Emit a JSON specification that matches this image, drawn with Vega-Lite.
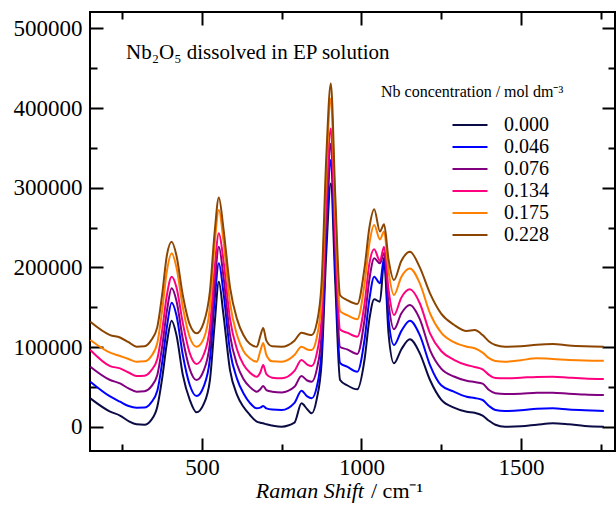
{
  "$schema": "https://vega.github.io/schema/vega-lite/v6.json",
  "width": 525,
  "height": 439,
  "autosize": {"type": "none"},
  "padding": {"left": 90, "top": 12, "right": 1, "bottom": 56},
  "background": "white",
  "config": {
    "view": {"stroke": "black", "strokeWidth": 2},
    "font": "Liberation Serif",
    "axis": {
      "labelFont": "Liberation Serif",
      "labelFontSize": 23,
      "labelFontWeight": "normal",
      "labelColor": "black",
      "tickColor": "black",
      "tickWidth": 2,
      "domain": false,
      "grid": false,
      "title": null
    },
    "legend": {
      "labelFont": "Liberation Serif",
      "titleFont": "Liberation Serif"
    }
  },
  "data": {
    "values": [
      {"x": 150, "c000": 35600, "c046": 56500, "c076": 75300, "c134": 96200, "c175": 108800, "c228": 131700},
      {"x": 212, "c000": 19000, "c046": 38000, "c076": 58600, "c134": 76000, "c175": 92900, "c228": 115000},
      {"x": 243, "c000": 14000, "c046": 31400, "c076": 54400, "c134": 73200, "c175": 88700, "c228": 112000},
      {"x": 270, "c000": 7000, "c046": 26000, "c076": 48000, "c134": 68000, "c175": 85000, "c228": 106000},
      {"x": 295, "c000": 3000, "c046": 23800, "c076": 43900, "c134": 63600, "c175": 81600, "c228": 100400},
      {"x": 320, "c000": 2500, "c046": 24000, "c076": 44500, "c134": 64000, "c175": 82000, "c228": 101000},
      {"x": 340, "c000": 8000, "c046": 30000, "c076": 50000, "c134": 70000, "c175": 88000, "c228": 108000},
      {"x": 360, "c000": 25000, "c046": 45000, "c076": 65000, "c134": 85000, "c175": 105000, "c228": 125000},
      {"x": 375, "c000": 60000, "c046": 80000, "c076": 100000, "c134": 120000, "c175": 145000, "c228": 165000},
      {"x": 390, "c000": 105000, "c046": 125000, "c076": 145000, "c134": 165000, "c175": 195000, "c228": 215000},
      {"x": 405, "c000": 133000, "c046": 155600, "c076": 173700, "c134": 188200, "c175": 217600, "c228": 232100},
      {"x": 420, "c000": 115000, "c046": 140000, "c076": 158000, "c134": 175000, "c175": 200000, "c228": 215000},
      {"x": 440, "c000": 65000, "c046": 90000, "c076": 110000, "c134": 130000, "c175": 150000, "c228": 165000},
      {"x": 462, "c000": 33500, "c046": 52000, "c076": 72000, "c134": 92000, "c175": 112000, "c228": 128000},
      {"x": 483, "c000": 18000, "c046": 38500, "c076": 58600, "c134": 78700, "c175": 100400, "c228": 117200},
      {"x": 505, "c000": 28000, "c046": 50000, "c076": 70000, "c134": 90000, "c175": 110000, "c228": 130000},
      {"x": 525, "c000": 58600, "c046": 85000, "c076": 105000, "c134": 125000, "c175": 150000, "c228": 170000},
      {"x": 540, "c000": 130000, "c046": 160000, "c076": 180000, "c134": 200000, "c175": 230000, "c228": 245000},
      {"x": 553, "c000": 182000, "c046": 205000, "c076": 225800, "c134": 242700, "c175": 271900, "c228": 287800},
      {"x": 567, "c000": 142000, "c046": 170000, "c076": 190000, "c134": 210000, "c175": 235000, "c228": 250000},
      {"x": 588, "c000": 71000, "c046": 95000, "c076": 115000, "c134": 135000, "c175": 155000, "c228": 175000},
      {"x": 610, "c000": 40000, "c046": 60000, "c076": 78000, "c134": 97000, "c175": 115000, "c228": 135000},
      {"x": 630, "c000": 25000, "c046": 42000, "c076": 60000, "c134": 78000, "c175": 95000, "c228": 115000},
      {"x": 650, "c000": 15000, "c046": 30000, "c076": 50000, "c134": 68000, "c175": 86000, "c228": 104000},
      {"x": 672, "c000": 6300, "c046": 23100, "c076": 44000, "c134": 62700, "c175": 81600, "c228": 100400},
      {"x": 683, "c000": 5000, "c046": 24000, "c076": 47000, "c134": 68000, "c175": 95000, "c228": 114000},
      {"x": 692, "c000": 4300, "c046": 26000, "c076": 51100, "c134": 77400, "c175": 105000, "c228": 124000},
      {"x": 702, "c000": 3000, "c046": 23000, "c076": 46000, "c134": 66000, "c175": 90000, "c228": 108000},
      {"x": 720, "c000": 1500, "c046": 21500, "c076": 44000, "c134": 61500, "c175": 82000, "c228": 101000},
      {"x": 750, "c000": 0, "c046": 21000, "c076": 43000, "c134": 60700, "c175": 81600, "c228": 100400},
      {"x": 790, "c000": 5000, "c046": 30000, "c076": 50000, "c134": 70000, "c175": 90000, "c228": 108000},
      {"x": 812, "c000": 29300, "c046": 45200, "c076": 63600, "c134": 83700, "c175": 100400, "c228": 118000},
      {"x": 830, "c000": 22000, "c046": 38000, "c076": 58000, "c134": 78000, "c175": 97000, "c228": 116000},
      {"x": 844, "c000": 16800, "c046": 35600, "c076": 56500, "c134": 76200, "c175": 96200, "c228": 115000},
      {"x": 860, "c000": 35000, "c046": 50000, "c076": 72000, "c134": 92000, "c175": 112000, "c228": 130000},
      {"x": 875, "c000": 80000, "c046": 95000, "c076": 115000, "c134": 135000, "c175": 160000, "c228": 180000},
      {"x": 890, "c000": 220000, "c046": 245000, "c076": 265000, "c134": 285000, "c175": 320000, "c228": 340000},
      {"x": 904, "c000": 305400, "c046": 334600, "c076": 355000, "c134": 374400, "c175": 412000, "c228": 430900},
      {"x": 918, "c000": 180000, "c046": 200000, "c076": 220000, "c134": 240000, "c175": 270000, "c228": 290000},
      {"x": 933, "c000": 58600, "c046": 80000, "c076": 100000, "c134": 122000, "c175": 145000, "c228": 165000},
      {"x": 955, "c000": 52000, "c046": 75300, "c076": 97100, "c134": 118000, "c175": 140100, "c228": 159000},
      {"x": 987, "c000": 46900, "c046": 69000, "c076": 91200, "c134": 112900, "c175": 134800, "c228": 154000},
      {"x": 1010, "c000": 85000, "c046": 110000, "c076": 135000, "c134": 155000, "c175": 180000, "c228": 200000},
      {"x": 1025, "c000": 135000, "c046": 160000, "c076": 185000, "c134": 205000, "c175": 230000, "c228": 250000},
      {"x": 1040, "c000": 160000, "c046": 188200, "c076": 211300, "c134": 222600, "c175": 253100, "c228": 272800},
      {"x": 1058, "c000": 156800, "c046": 179900, "c076": 205000, "c134": 208000, "c175": 235000, "c228": 245000},
      {"x": 1071, "c000": 207000, "c046": 212000, "c076": 218000, "c134": 226000, "c175": 245000, "c228": 254000},
      {"x": 1085, "c000": 117000, "c046": 135000, "c076": 155000, "c134": 172000, "c175": 195000, "c228": 210000},
      {"x": 1102, "c000": 79500, "c046": 102500, "c076": 122200, "c134": 140100, "c175": 165200, "c228": 184000},
      {"x": 1125, "c000": 97000, "c046": 120000, "c076": 142000, "c134": 162000, "c175": 188000, "c228": 208000},
      {"x": 1152, "c000": 109700, "c046": 133000, "c076": 152700, "c134": 172400, "c175": 198700, "c228": 219600},
      {"x": 1183, "c000": 92100, "c046": 115000, "c076": 135000, "c134": 155000, "c175": 180000, "c228": 200000},
      {"x": 1215, "c000": 58600, "c046": 77400, "c076": 96200, "c134": 117200, "c175": 142300, "c228": 167400},
      {"x": 1250, "c000": 34000, "c046": 52000, "c076": 73000, "c134": 95000, "c175": 118000, "c228": 142000},
      {"x": 1290, "c000": 24000, "c046": 44000, "c076": 63000, "c134": 84000, "c175": 106000, "c228": 128000},
      {"x": 1330, "c000": 18800, "c046": 37600, "c076": 57700, "c134": 77400, "c175": 100400, "c228": 120100},
      {"x": 1355, "c000": 17500, "c046": 36000, "c076": 56000, "c134": 75000, "c175": 98400, "c228": 121300},
      {"x": 1380, "c000": 14000, "c046": 33500, "c076": 54000, "c134": 72000, "c175": 93000, "c228": 115000},
      {"x": 1400, "c000": 7500, "c046": 26000, "c076": 46000, "c134": 65000, "c175": 86000, "c228": 107000},
      {"x": 1420, "c000": 2500, "c046": 21000, "c076": 42000, "c134": 61000, "c175": 82500, "c228": 102500},
      {"x": 1450, "c000": 0, "c046": 19700, "c076": 41000, "c134": 60700, "c175": 81600, "c228": 100400},
      {"x": 1500, "c000": 500, "c046": 20500, "c076": 41500, "c134": 61500, "c175": 83500, "c228": 101000},
      {"x": 1550, "c000": 2500, "c046": 22500, "c076": 42500, "c134": 62500, "c175": 85800, "c228": 103000},
      {"x": 1600, "c000": 4300, "c046": 23100, "c076": 42700, "c134": 62700, "c175": 85000, "c228": 103800},
      {"x": 1650, "c000": 3000, "c046": 21500, "c076": 41500, "c134": 61500, "c175": 83700, "c228": 102000},
      {"x": 1700, "c000": 1000, "c046": 20500, "c076": 40500, "c134": 60500, "c175": 83000, "c228": 101000},
      {"x": 1760, "c000": 0, "c046": 19700, "c076": 39800, "c134": 59800, "c175": 82800, "c228": 100400}
    ]
  },
  "layer": [
    {
      "transform": [{"fold": ["c000", "c046", "c076", "c134", "c175", "c228"], "as": ["series", "value"]}],
      "mark": {"type": "line", "strokeWidth": 2, "interpolate": "monotone"},
      "encoding": {
        "x": {
          "field": "x", "type": "quantitative",
          "scale": {"domain": [149, 1795], "nice": false, "zero": false},
          "axis": {
            "orient": "bottom",
            "values": [250, 500, 750, 1000, 1250, 1500, 1750],
            "format": "d",
            "labelFont": "Liberation Serif",
            "labelExpr": "datum.value % 500 === 0 ? datum.label : ''",
            "tickSize": {"condition": {"test": "datum.value % 500 === 0", "value": -13}, "value": -7},
            "labelPadding": 18,
            "labelFlush": false
          }
        },
        "y": {
          "field": "value", "type": "quantitative",
          "scale": {"domain": [-30500, 520500], "nice": false, "zero": false},
          "axis": {
            "orient": "left",
            "values": [0, 50000, 100000, 150000, 200000, 250000, 300000, 350000, 400000, 450000, 500000],
            "format": "d",
            "labelFont": "Liberation Serif",
            "labelExpr": "datum.value % 100000 === 0 ? datum.label : ''",
            "tickSize": {"condition": {"test": "datum.value % 100000 === 0", "value": -13}, "value": -7},
            "labelPadding": 21,
            "labelFlush": false
          }
        },
        "color": {
          "field": "series", "type": "nominal",
          "scale": {
            "domain": ["c000", "c046", "c076", "c134", "c175", "c228"],
            "range": ["#0b0b45", "#0000ff", "#800080", "#ff007f", "#ff8000", "#8b4500"]
          },
          "legend": {
            "orient": "none",
            "legendX": 291,
            "legendY": 72,
            "title": "Nb concentration / mol dm⁻³",
            "titleFont": "Liberation Serif",
            "titleFontSize": 16,
            "titleFontWeight": "normal",
            "titleColor": "black",
            "titleLimit": 400,
            "titlePadding": 15,
            "labelFont": "Liberation Serif",
            "labelFontSize": 20,
            "labelColor": "black",
            "labelExpr": "'0.' + slice(datum.label, 1)",
            "symbolType": "M-3,0H3",
            "symbolSize": 136,
            "symbolStrokeWidth": 2,
            "symbolFillColor": "transparent",
            "symbolOffset": 79,
            "labelOffset": 24,
            "rowPadding": 2
          }
        }
      }
    },
    {
      "mark": {"type": "point", "opacity": 0},
      "encoding": {
        "x": {
          "field": "x", "type": "quantitative",
          "scale": {"domain": [149, 1795], "nice": false, "zero": false},
          "axis": {
            "orient": "top",
            "values": [250, 500, 750, 1000, 1250, 1500, 1750],
            "labels": false,
            "tickSize": {"condition": {"test": "datum.value % 500 === 0", "value": -13}, "value": -7}
          }
        },
        "y": {
          "field": "c000", "type": "quantitative",
          "scale": {"domain": [-30500, 520500], "nice": false, "zero": false},
          "axis": {
            "orient": "right",
            "values": [0, 50000, 100000, 150000, 200000, 250000, 300000, 350000, 400000, 450000, 500000],
            "labels": false,
            "tickSize": {"condition": {"test": "datum.value % 100000 === 0", "value": -13}, "value": -7}
          }
        }
      }
    },
    {
      "data": {"values": [{"label": "Nb₂O₅ dissolved in EP solution"}]},
      "mark": {"type": "text", "align": "left", "baseline": "alphabetic", "font": "Liberation Serif", "fontSize": 21, "fontWeight": "normal", "fill": "black"},
      "encoding": {
        "x": {"datum": 262, "type": "quantitative", "scale": {"domain": [149, 1795], "nice": false, "zero": false}, "axis": null},
        "y": {"datum": 461400, "type": "quantitative", "scale": {"domain": [-30500, 520500], "nice": false, "zero": false}, "axis": null},
        "text": {"field": "label"}
      }
    },
    {
      "data": {"values": [{"label": "Raman Shift"}]},
      "mark": {"type": "text", "align": "right", "baseline": "alphabetic", "font": "Liberation Serif", "fontSize": 22, "fontStyle": "italic", "fontWeight": "normal", "fill": "black"},
      "encoding": {
        "x": {"datum": 1008, "type": "quantitative", "scale": {"domain": [149, 1795], "nice": false, "zero": false}, "axis": null},
        "y": {"datum": -89500, "type": "quantitative", "scale": {"domain": [-30500, 520500], "nice": false, "zero": false}, "axis": null},
        "text": {"field": "label"}
      }
    },
    {
      "data": {"values": [{"label": "/ cm⁻¹"}]},
      "mark": {"type": "text", "align": "left", "baseline": "alphabetic", "font": "Liberation Serif", "fontSize": 22, "fontWeight": "normal", "fill": "black"},
      "encoding": {
        "x": {"datum": 1030, "type": "quantitative", "scale": {"domain": [149, 1795], "nice": false, "zero": false}, "axis": null},
        "y": {"datum": -89500, "type": "quantitative", "scale": {"domain": [-30500, 520500], "nice": false, "zero": false}, "axis": null},
        "text": {"field": "label"}
      }
    }
  ],
  "resolve": {"axis": {"x": "independent", "y": "independent"}}
}
